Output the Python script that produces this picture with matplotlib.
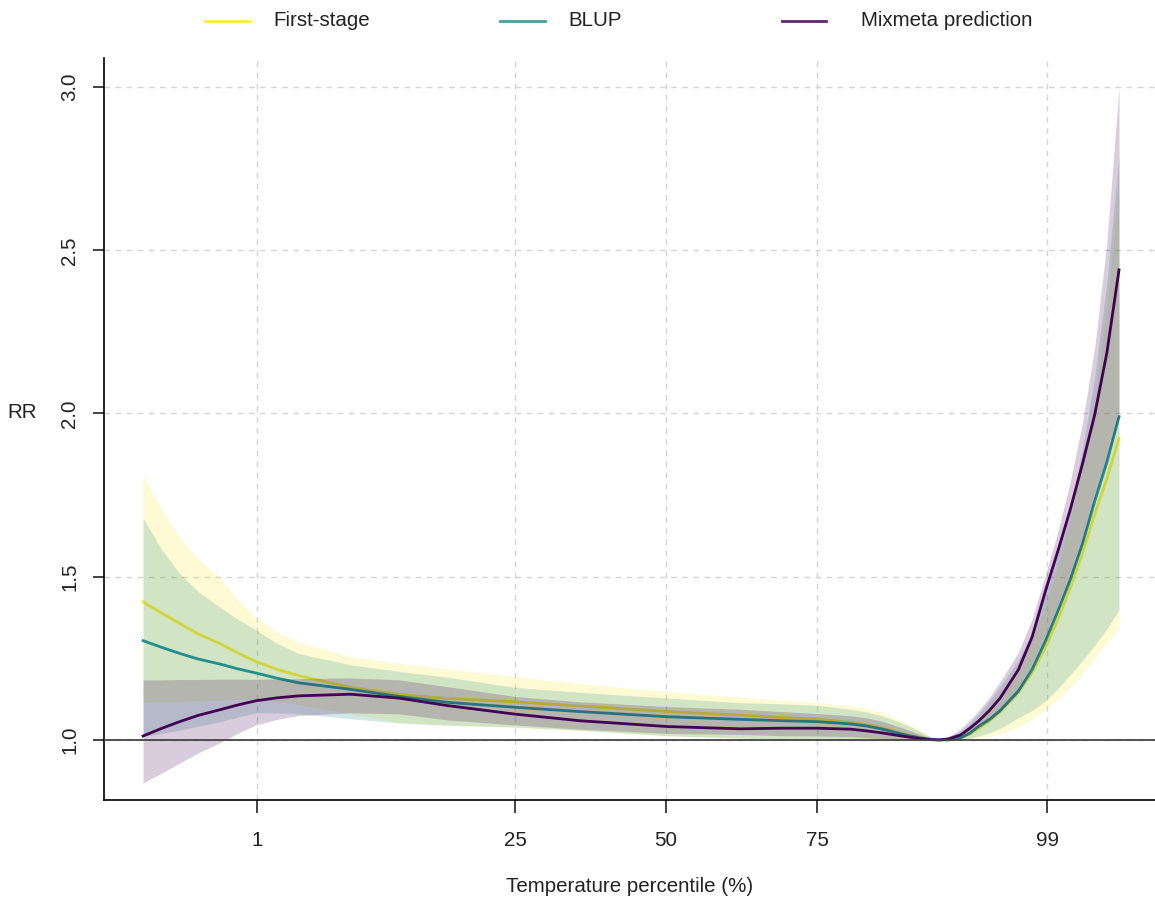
import matplotlib
matplotlib.use("Agg")
import matplotlib.pyplot as plt
from matplotlib.lines import Line2D

plt.rcParams['font.family'] = ['Liberation Sans', 'DejaVu Sans']

# temperature grid (arbitrary degC scale) and percentile ticks
temp = [0, 0.6, 1.2, 1.8, 2.5, 3.1, 3.7, 4.4, 5.1, 6.8, 8.4, 10, 12.2, 14.3, 17.2, 19.6, 20.9,
        22.1, 23.2, 23.7, 24.2, 24.8, 25.1, 25.5, 25.8, 26.1, 26.4, 26.8, 27.1, 27.4, 27.75,
        28.1, 28.7, 29.15, 29.6, 30.0, 30.4, 30.8, 31.2, 31.6, 32]
pct_temp = [3.74, 12.2, 17.15, 22.1, 29.64]
pct_labels = ['1', '25', '50', '75', '99']

first_rr = [1.423, 1.389, 1.357, 1.325, 1.296, 1.267, 1.240, 1.216, 1.197, 1.161, 1.139, 1.127, 1.117,
            1.104, 1.087, 1.076, 1.069, 1.064, 1.054, 1.047, 1.038, 1.022, 1.015, 1.007, 1.002, 1.000,
            1.001, 1.006, 1.017, 1.035, 1.058, 1.085, 1.145, 1.205, 1.285, 1.370, 1.465, 1.570,
            1.690, 1.800, 1.924]
first_lo = [1.116, 1.117, 1.118, 1.120, 1.122, 1.124, 1.125, 1.118, 1.108, 1.080, 1.053, 1.045, 1.038,
            1.028, 1.012, 1.005, 1.001, 0.999, 0.997, 0.996, 0.996, 0.997, 0.998, 0.999, 1.000, 1.000,
            1.000, 1.000, 1.002, 1.005, 1.011, 1.020, 1.040, 1.064, 1.095, 1.125, 1.160, 1.203,
            1.250, 1.295, 1.343]
first_hi = [1.810, 1.710, 1.620, 1.555, 1.500, 1.430, 1.374, 1.330, 1.300, 1.255, 1.235, 1.217, 1.194,
            1.173, 1.148, 1.131, 1.122, 1.115, 1.105, 1.097, 1.085, 1.062, 1.048, 1.028, 1.013, 1.000,
            1.006, 1.018, 1.040, 1.070, 1.105, 1.145, 1.225, 1.310, 1.415, 1.540, 1.675, 1.850,
            2.045, 2.330, 2.700]

blup_rr = [1.304, 1.284, 1.265, 1.248, 1.233, 1.218, 1.205, 1.189, 1.175, 1.155, 1.133, 1.115, 1.100,
           1.087, 1.071, 1.063, 1.059, 1.056, 1.049, 1.043, 1.034, 1.020, 1.013, 1.006, 1.002, 1.000,
           1.000, 1.006, 1.020, 1.042, 1.063, 1.090, 1.150, 1.215, 1.305, 1.395, 1.490, 1.600,
           1.730, 1.850, 1.990]
blup_lo = [1.010, 1.020, 1.030, 1.042, 1.055, 1.070, 1.083, 1.083, 1.080, 1.065, 1.052, 1.045, 1.040,
           1.030, 1.013, 1.006, 1.003, 1.001, 0.999, 0.998, 0.998, 0.999, 0.999, 1.000, 1.000, 1.000,
           1.000, 1.000, 1.005, 1.012, 1.022, 1.035, 1.068, 1.090, 1.120, 1.158, 1.200, 1.243,
           1.290, 1.340, 1.398]
blup_hi = [1.680, 1.585, 1.510, 1.455, 1.408, 1.370, 1.337, 1.295, 1.265, 1.230, 1.210, 1.192, 1.161,
           1.146, 1.128, 1.114, 1.111, 1.106, 1.094, 1.086, 1.075, 1.055, 1.043, 1.025, 1.011, 1.000,
           1.008, 1.025, 1.050, 1.080, 1.120, 1.162, 1.245, 1.330, 1.450, 1.575, 1.715, 1.890,
           2.110, 2.400, 2.790]

mix_rr = [1.012, 1.035, 1.056, 1.075, 1.092, 1.107, 1.120, 1.129, 1.135, 1.140, 1.128, 1.105, 1.079,
          1.059, 1.041, 1.034, 1.036, 1.036, 1.033, 1.028, 1.022, 1.013, 1.009, 1.004, 1.001, 1.000,
          1.003, 1.015, 1.035, 1.058, 1.090, 1.128, 1.215, 1.315, 1.460, 1.580, 1.705, 1.845,
          1.995, 2.185, 2.440]
mix_lo = [0.868, 0.898, 0.929, 0.960, 0.990, 1.020, 1.046, 1.063, 1.075, 1.083, 1.080, 1.061, 1.046,
          1.033, 1.020, 1.017, 1.013, 1.012, 1.010, 1.007, 1.004, 1.000, 0.999, 0.999, 1.000, 1.000,
          1.000, 1.005, 1.018, 1.038, 1.058, 1.085, 1.145, 1.220, 1.310, 1.400, 1.490, 1.600,
          1.740, 1.860, 1.990]
mix_hi = [1.184, 1.184, 1.185, 1.185, 1.186, 1.186, 1.186, 1.187, 1.188, 1.190, 1.184, 1.163, 1.133,
          1.117, 1.102, 1.094, 1.087, 1.081, 1.074, 1.068, 1.058, 1.040, 1.030, 1.016, 1.007, 1.000,
          1.010, 1.033, 1.060, 1.090, 1.130, 1.178, 1.268, 1.370, 1.510, 1.640, 1.790, 1.970,
          2.200, 2.520, 3.000]

series = [
    ('First-stage', first_rr, first_lo, first_hi, '#FDE725'),
    ('BLUP', blup_rr, blup_lo, blup_hi, '#21908C'),
    ('Mixmeta prediction', mix_rr, mix_lo, mix_hi, '#440154'),
]

fs = 14.8
fig = plt.figure(figsize=(11.55, 9), dpi=100)
ax = fig.add_axes([104 / 1155, 100 / 900, 1 - 104 / 1155, 742 / 900])

z = 2
for name, rr, lo, hi, col in series:
    ax.plot(temp, rr, color=col, lw=2, zorder=z)
    ax.fill_between(temp, lo, hi, color=col, alpha=0.2, lw=0, zorder=z + 1)
    z += 2

ax.axhline(1.0, color='#444444', lw=1.3, zorder=10)

ax.set_xlim(-1.28, 33.18)
ax.set_ylim(0.816, 3.089)
ax.set_xticks(pct_temp, pct_labels)
ax.set_yticks([1.0, 1.5, 2.0, 2.5, 3.0], ['1.0', '1.5', '2.0', '2.5', '3.0'])
ax.grid(True, ls=(0, (4, 4)), color='#d4d4d4', lw=1)
ax.set_axisbelow(True)

for s in ['top', 'right']:
    ax.spines[s].set_visible(False)
for s in ['left', 'bottom']:
    ax.spines[s].set_linewidth(1.2)

ax.tick_params(axis='x', length=9, width=1.2, pad=13, labelsize=fs, colors='#222222')
ax.tick_params(axis='y', length=8, width=1.2, pad=10, labelsize=fs, colors='#222222')
for lab in ax.get_yticklabels():
    lab.set_rotation(90)
    lab.set_va('center')

ax.set_xlabel('Temperature percentile (%)', fontsize=fs, color='#222222')
ax.xaxis.set_label_coords(0.5005, -0.1038)
ax.set_ylabel('RR', rotation=0, fontsize=fs, color='#222222')
ax.yaxis.set_label_coords(-0.078, 0.5094)

# legend row along the top
leg_y = 1 - 21 / 900
leg_pos = [(205, 250, 273), (500, 545, 568), (782, 826, 861)]
for (name, rr, lo, hi, col), (x0, x1, xt) in zip(series, leg_pos):
    fig.add_artist(Line2D([x0 / 1155, x1 / 1155], [leg_y, leg_y], color=col, lw=2, alpha=0.85))
    fig.text(xt / 1155, leg_y, name, fontsize=fs, va='center', ha='left', color='#222222')

fig.savefig('out.png', dpi=100)
